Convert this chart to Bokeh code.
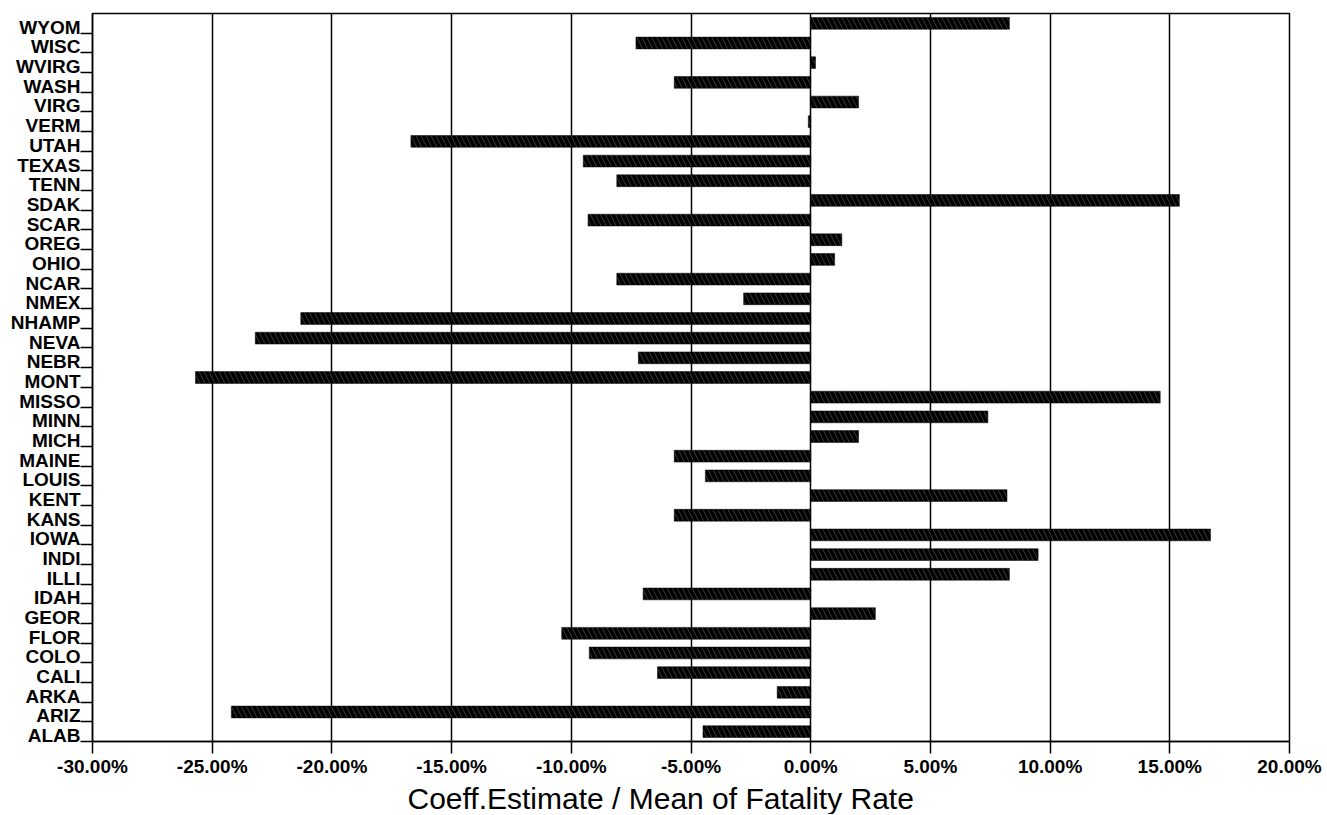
from bokeh.plotting import figure
from bokeh.models import (Range1d, FixedTicker, PrintfTickFormatter,
                          Title, ColumnDataSource)
from bokeh.embed import file_html
from bokeh.resources import INLINE

# Categories from bottom to top
states = ["ALAB", "ARIZ", "ARKA", "CALI", "COLO", "FLOR", "GEOR", "IDAH", "ILLI",
          "INDI", "IOWA", "KANS", "KENT", "LOUIS", "MAINE", "MICH", "MINN", "MISSO",
          "MONT", "NEBR", "NEVA", "NHAMP", "NMEX", "NCAR", "OHIO", "OREG", "SCAR",
          "SDAK", "TENN", "TEXAS", "UTAH", "VERM", "VIRG", "WASH", "WVIRG", "WISC",
          "WYOM"]
# Coefficient estimate / mean fatality rate, in percent
values = [-4.5, -24.2, -1.4, -6.4, -9.25, -10.4, 2.7, -7.0, 8.3,
          9.5, 16.7, -5.7, 8.2, -4.4, -5.7, 2.0, 7.4, 14.6,
          -25.7, -7.2, -23.2, -21.3, -2.8, -8.1, 1.0, 1.3, -9.3,
          15.4, -8.1, -9.5, -16.7, -0.1, 2.0, -5.7, 0.2, -7.3,
          8.3]
x_ticks = [-30, -25, -20, -15, -10, -5, 0, 5, 10, 15, 20]
x_title = "Coeff.Estimate / Mean of Fatality Rate"

n = len(states)
pos = list(range(n))
src = ColumnDataSource(dict(y=pos, right=values, name=states))

p = figure(output_backend="svg", toolbar_location=None,
           frame_width=1197, frame_height=728,
           min_border_left=92, min_border_top=13, min_border_right=35,
           min_border_bottom=0,
           x_range=Range1d(-30, 20), y_range=Range1d(-0.5, n - 0.5))
p.background_fill_color = "white"
p.border_fill_color = "white"
p.outline_line_color = "black"
p.outline_line_width = 1.5

p.hbar(y="y", left=0, right="right", height=0.6, source=src,
       fill_color="black", line_color="black", line_width=0.5,
       hatch_pattern="\\", hatch_color="white", hatch_alpha=0.22,
       hatch_scale=10, hatch_weight=1)

# x axis
xa = p.xaxis[0]
xa.ticker = FixedTicker(ticks=x_ticks)
xa.formatter = PrintfTickFormatter(format="%.2f%%")
xa.major_label_text_font = "Liberation Sans"
xa.major_label_text_font_style = "bold"
xa.major_label_text_font_size = "19px"
xa.major_label_text_color = "black"
xa.major_tick_out = 12
xa.major_tick_in = 0
xa.major_tick_line_width = 1.5
xa.minor_tick_line_color = None
xa.axis_line_width = 1.5
xa.major_label_standoff = 2

p.xgrid.ticker = FixedTicker(ticks=x_ticks)
p.xgrid.grid_line_color = "black"
p.xgrid.grid_line_width = 1.5
p.ygrid.grid_line_color = None

# y axis: labels just above each category boundary, tick marks on boundaries
lab_pos = [i - 0.2 for i in pos]
ya = p.yaxis[0]
ya.ticker = FixedTicker(ticks=lab_pos, minor_ticks=[i - 0.5 for i in pos])
ya.major_label_overrides = {lp: s for lp, s in zip(lab_pos, states)}
ya.major_tick_out = 12
ya.major_tick_in = 0
ya.major_tick_line_color = None
ya.minor_tick_out = 12
ya.minor_tick_in = 0
ya.minor_tick_line_color = "black"
ya.minor_tick_line_width = 1.5
ya.axis_line_width = 1.5
ya.major_label_standoff = 0
ya.major_label_text_font = "Liberation Sans"
ya.major_label_text_font_style = "bold"
ya.major_label_text_font_size = "19px"
ya.major_label_text_color = "black"

t = Title(text=x_title, align="left", offset=315, standoff=0,
          text_font="Liberation Sans", text_font_style="normal",
          text_font_size="30px", text_color="black")
p.add_layout(t, "below")

open("out.html", "w").write(file_html(p, INLINE))
